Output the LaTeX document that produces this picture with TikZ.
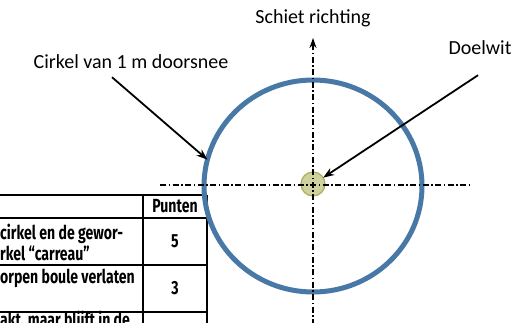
\documentclass[tikz,border=0pt]{standalone}
\usepackage{fontspec}
\setmainfont{Carlito}
\newfontfamily\tabfont[FakeStretch=0.74]{Fira Sans}
\usetikzlibrary{arrows.meta,positioning,shapes.geometric}
\definecolor{ringblue}{RGB}{72,120,166}
\definecolor{doelfill}{RGB}{208,210,158}
\definecolor{doeldraw}{RGB}{168,172,96}

\begin{document}
\begin{tikzpicture}[
  x=1pt,y=-1pt,
  >=Stealth,
  lbl/.style={font=\fontsize{20}{23}\selectfont,inner sep=0pt},
  cel/.style={font=\tabfont\bfseries\fontsize{19}{21}\selectfont,inner sep=0pt},
  axis/.style={line width=1.1pt,dash pattern=on 6pt off 2.5pt on 1.5pt off 2.5pt},
  pointer/.style={-{Stealth[length=11pt,width=8pt]},line width=1.8pt},
  grid/.style={line width=1.4pt},
]
\useasboundingbox (0,0) rectangle (514,322);
\clip (0,0) rectangle (514,322);

%% ============================================================
%% table at the left (cut off by the edge of the picture)
%% ============================================================
\foreach \y in {195,218,265,312} \draw[grid] (-5,\y) -- (207,\y);
\foreach \x in {143,207} \draw[grid] (\x,195) -- (\x,330);

\node[cel] (punten) at (175,206) {Punten};
\node[cel] (vijf)   at (175,241) {5};
\node[cel] (drie)   at (175,288) {3};

\node[cel,anchor=west] (rij1a) at (0,234) {cirkel en de gewor-};
\node[cel,anchor=west] (rij1b) at (0,253) {rkel “carreau”};
\node[cel,anchor=west] (rij2)  at (0,278) {orpen boule verlaten};
\node[cel,anchor=west] (rij3)  at (0,321) {akt, maar blijft in de};

%% ============================================================
%% circle, target and axes
%% ============================================================
\node[draw=ringblue,line width=5pt,ellipse,minimum width=218pt,
      minimum height=212pt,inner sep=0pt,outer sep=0pt] (ring) at (313,186) {};
\node[circle,fill=doelfill,draw=doeldraw,line width=1.2pt,
      minimum size=24pt,inner sep=0pt,outer sep=0pt] (doel) at (313,184) {};

\coordinate (hlinks)  at (160,185);
\coordinate (hrechts) at (472,185);
\coordinate (vonder)  at (313,325);
\coordinate (vboven)  at (313,38);

\draw[axis] (hlinks) -- (hrechts);
\draw[axis] (vonder) -- (vboven);
\draw[-{Stealth[length=10pt,width=7pt]},line width=1pt] ([yshift=-6pt]vboven) -- (vboven);

%% ============================================================
%% labels
%% ============================================================
\node[lbl] (schiet)  at (313,18)  {Schiet richting};
\node[lbl] (cirkel)  at (131,62)  {Cirkel van 1 m doorsnee};
\node[lbl] (doelwit) at (480,48)  {Doelwit};

\draw[pointer] ([xshift=-19pt,yshift=-8pt]cirkel.south) -- (ring.166);
\draw[pointer] ([xshift=-2pt,yshift=-20pt]doelwit.south) -- (doel.32);

\end{tikzpicture}
\end{document}
